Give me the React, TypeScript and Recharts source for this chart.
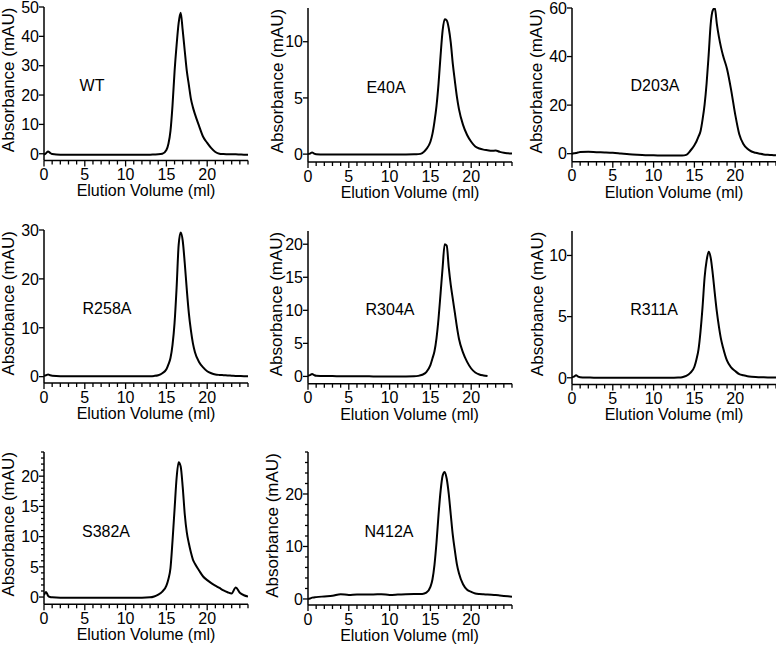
import React from "react";
import { LineChart, Line, XAxis, YAxis } from "recharts";

// elution volume (ml), shared by every run
const VOLUME = [
  0, 0.25, 0.5, 0.75, 1, 2, 3, 4, 5, 6, 7, 8, 9, 10, 11, 12, 13, 13.5, 14, 14.5,
  15, 15.25, 15.5, 15.75, 16, 16.25, 16.5, 16.75, 17, 17.25, 17.5, 17.75, 18,
  18.25, 18.5, 19, 19.5, 20, 20.5, 21, 21.5, 22, 22.5, 23, 23.5, 24, 24.5, 25,
];

// absorbance (mAU)
const WT = [
  -0.3, 0.2, 0.8, 0.3, -0.1, -0.3, -0.3, -0.3, -0.3, -0.3, -0.3, -0.3, -0.3, -0.3, -0.3, -0.3,
  -0.3, -0.25, -0.2, 0.0, 1.3, 3.4, 7.8, 16.5, 28, 37, 44.5, 48, 42, 35, 28.2, 23.5,
  18.8, 15.8, 13.5, 9.5, 5.8, 3.7, 1.9, 0.6, 0.0, -0.1, -0.15, -0.2, -0.2, -0.25, -0.3, -0.3,
];
const E40A = [
  0, 0.05, 0.15, 0.05, 0, -0.03, -0.03, -0.03, -0.03, -0.03, -0.03, -0.03, -0.03, -0.03, -0.03, -0.03,
  -0.02, 0, 0.1, 0.45, 1.1, 1.8, 2.9, 4.3, 6.3, 8.8, 11.0, 12.0, 11.9, 11.2, 9.9, 8.0,
  6.5, 5.1, 4.0, 2.6, 1.7, 1.1, 0.68, 0.5, 0.4, 0.35, 0.3, 0.32, 0.2, 0.12, 0.08, 0.05,
];
const D203A = [
  0, 0.15, 0.3, 0.5, 0.65, 0.75, 0.6, 0.5, 0.35, 0.05, -0.25, -0.45, -0.6, -0.65, -0.75, -0.8,
  -0.8, -0.8, -0.5, 1.2, 3.5, 5.0, 7.0, 9.2, 14.0, 20.2, 29.1, 40.8, 53.5, 59, 60, 53.5,
  48.2, 44.0, 40.5, 34.9, 26.3, 16.2, 8.0, 4.0, 2.0, 0.9, 0.35, 0, -0.3, -0.45, -0.55, -0.7,
];
const R258A = [
  0.2, 0.3, 0.45, 0.3, 0.2, 0.1, 0.1, 0.1, 0.1, 0.1, 0.1, 0.1, 0.1, 0.1, 0.1, 0.1,
  0.1, 0.15, 0.3, 0.7, 1.5, 2.5, 3.8, 6.5, 11, 18.2, 26.9, 29.5, 27.8, 23.2, 17.8, 13.0,
  9.5, 6.8, 5.0, 3.0, 1.9, 1.1, 0.7, 0.45, 0.35, 0.3, 0.25, 0.2, 0.15, 0.12, 0.1, 0.1,
];
const R304A = [
  0.1, 0.2, 0.35, 0.2, 0.1, 0.05, 0.05, 0.03, 0.03, 0.02, 0.02, 0, 0, 0, 0, 0,
  0.02, 0.08, 0.25, 0.65, 1.7, 2.7, 3.8, 5.8, 8.8, 12.6, 16.5, 20.0, 19.8, 16.5, 13.8, 11.7,
  9.6, 7.5, 5.7, 3.6, 2.2, 1.2, 0.6, 0.3, 0.15, 0.05, null, null, null, null, null, null,
];
const R311A = [
  0.05, 0.1, 0.2, 0.1, 0.05, 0.02, 0, 0, 0, 0, 0, 0, 0, 0, 0, 0,
  0.02, 0.05, 0.15, 0.4, 0.9, 1.5, 2.3, 3.8, 5.8, 8.2, 9.6, 10.3, 9.8, 8.5, 6.9, 5.4,
  4.2, 3.2, 2.5, 1.4, 0.85, 0.55, 0.3, 0.2, 0.12, 0.08, 0.06, 0.05, 0.04, 0.03, 0.02, 0.02,
];
const S382A = [
  0.3, 0.85, 0.2, 0.0, -0.05, -0.1, -0.1, -0.1, -0.1, -0.1, -0.1, -0.1, -0.1, -0.1, -0.1, -0.1,
  -0.05, 0.1, 0.4, 0.9, 1.9, 3.0, 4.8, 9.3, 14.5, 19.7, 22.3, 21.6, 18.2, 13.7, 10.7, 8.9,
  7.4, 6.2, 5.5, 4.4, 3.4, 2.8, 2.3, 1.9, 1.5, 1.1, 0.8, 0.6, 1.6, 0.7, 0.3, 0.1,
];
const N412A = [
  0, 0.1, 0.25, 0.3, 0.35, 0.48, 0.6, 0.9, 0.76, 0.85, 0.85, 0.85, 0.9, 0.76, 0.83, 0.92,
  0.95, 0.95, 0.95, 1.2, 2.3, 3.7, 6.5, 10.8, 16.1, 20.6, 23.5, 24.2, 22.9, 20.0, 16.0, 12.1,
  9.2, 6.6, 4.9, 2.8, 1.75, 1.35, 1.05, 0.93, 0.88, 0.85, 0.8, 0.74, 0.66, 0.58, 0.5, 0.42,
];

const X_TICKS = [0, 1, 2, 3, 4, 5, 6, 7, 8, 9, 10, 11, 12, 13, 14, 15, 16, 17, 18, 19, 20, 21, 22, 23, 24, 25];
const X_LABELS = [0, 5, 10, 15, 20];

const WT_Y = [0, 10, 20, 30, 40, 50];
const E40A_Y = [0, 5, 10];
const D203A_Y = [0, 20, 40, 60];
const R258A_Y = [0, 10, 20, 30];
const R304A_Y = [0, 5, 10, 15, 20];
const R311A_Y = [0, 5, 10];
const S382A_Y = [0, 5, 10, 15, 20];
const S382A_MINOR = [0, 1, 2, 3, 4, 5, 6, 7, 8, 9, 10, 11, 12, 13, 14, 15, 16, 17, 18, 19, 20, 21, 22, 23, 24];
const N412A_Y = [0, 10, 20];
const N412A_MINOR = [0, 2, 4, 6, 8, 10, 12, 14, 16, 18, 20, 22, 24, 26, 28];

const FONT = "'Liberation Sans', Arial, Helvetica, sans-serif";
const PLOT_W = 204;
const M_LEFT = 44;
const M_TOP = 10;
const M_BOTTOM = 42;

type Panel = {
  name: string;
  values: (number | null)[];
  domain: [number, number];
  labels: number[];
  ticks: number[];
  x0: number;
  top: number;
  bottom: number;
  titleGap: number;
  nameX: number;
  nameY: number;
};

const PANELS: Panel[] = [
  { name: "WT", values: WT, domain: [-2.3, 50], labels: WT_Y, ticks: WT_Y, x0: 44, top: 6.5, bottom: 160, titleGap: 36, nameX: 92, nameY: 85 },
  { name: "E40A", values: E40A, domain: [-0.7, 13], labels: E40A_Y, ticks: E40A_Y, x0: 308, top: 8, bottom: 162, titleGap: 31, nameX: 386, nameY: 87 },
  { name: "D203A", values: D203A, domain: [-3.3, 60], labels: D203A_Y, ticks: D203A_Y, x0: 572, top: 8.3, bottom: 162, titleGap: 36, nameX: 655, nameY: 85.5 },
  { name: "R258A", values: R258A, domain: [-1.3, 30], labels: R258A_Y, ticks: R258A_Y, x0: 44, top: 230, bottom: 383, titleGap: 36, nameX: 107, nameY: 308.5 },
  { name: "R304A", values: R304A, domain: [-1.1, 22], labels: R304A_Y, ticks: R304A_Y, x0: 307.5, top: 231.3, bottom: 384, titleGap: 31.5, nameX: 390, nameY: 309 },
  { name: "R311A", values: R311A, domain: [-0.55, 12], labels: R311A_Y, ticks: R311A_Y, x0: 572, top: 230.5, bottom: 384, titleGap: 34.5, nameX: 654, nameY: 309 },
  { name: "S382A", values: S382A, domain: [-1.2, 24], labels: S382A_Y, ticks: S382A_MINOR, x0: 44, top: 451.7, bottom: 604, titleGap: 36, nameX: 106, nameY: 530.8 },
  { name: "N412A", values: N412A, domain: [-1.15, 28], labels: N412A_Y, ticks: N412A_MINOR, x0: 307.5, top: 452, bottom: 605, titleGap: 35.5, nameX: 389, nameY: 530.8 },
];

function XTick(props: any) {
  const { x, y, payload } = props;
  const major = X_LABELS.includes(payload.value);
  return (
    <g>
      <line x1={x} x2={x} y1={y} y2={y + (major ? 6 : 4)} stroke="#000" strokeWidth={1.3} />
      {major && (
        <text x={x} y={y + 19.5} textAnchor="middle" fontSize={16} fontFamily={FONT} fill="#000">
          {payload.value}
        </text>
      )}
    </g>
  );
}

function YTick(props: any) {
  const { x, y, payload, labels } = props;
  const major = labels.includes(payload.value);
  return (
    <g>
      <line x1={x - (major ? 5 : 3)} x2={x} y1={y} y2={y} stroke="#000" strokeWidth={1.3} />
      {major && (
        <text x={x - 5} y={y} dy="0.36em" textAnchor="end" fontSize={16} fontFamily={FONT} fill="#000">
          {payload.value}
        </text>
      )}
    </g>
  );
}

function Chromatogram({ p }: { p: Panel }) {
  const data = VOLUME.map((v, i) => ({ v, a: p.values[i] }));
  const h = p.bottom - p.top;
  return (
    <div style={{ position: "absolute", left: p.x0 - M_LEFT, top: p.top - M_TOP }}>
      <LineChart
        width={M_LEFT + PLOT_W + 2}
        height={M_TOP + h + M_BOTTOM}
        data={data}
        margin={{ top: M_TOP, right: 2, bottom: 0, left: 0 }}
      >
        <XAxis
          dataKey="v"
          type="number"
          domain={[0, 25]}
          ticks={X_TICKS}
          interval={0}
          allowDataOverflow
          height={M_BOTTOM}
          tickSize={0}
          tickMargin={0}
          tickLine={false}
          axisLine={{ stroke: "#000", strokeWidth: 1.5 }}
          tick={<XTick />}
        />
        <YAxis
          type="number"
          domain={p.domain}
          ticks={p.ticks}
          interval={0}
          allowDataOverflow
          width={M_LEFT}
          tickSize={0}
          tickMargin={0}
          tickLine={false}
          axisLine={{ stroke: "#000", strokeWidth: 1.5 }}
          tick={<YTick labels={p.labels} />}
        />
        <Line
          dataKey="a"
          type="monotone"
          stroke="#000"
          strokeWidth={2}
          strokeLinejoin="round"
          dot={false}
          connectNulls={false}
          isAnimationActive={false}
        />
      </LineChart>
    </div>
  );
}

export default function App() {
  return (
    <div
      style={{
        position: "absolute",
        left: 0,
        top: 0,
        width: 776,
        height: 646,
        overflow: "hidden",
        background: "#fff",
      }}
    >
      {PANELS.map((p) => (
        <Chromatogram key={p.name} p={p} />
      ))}
      <svg
        width={776}
        height={646}
        style={{ position: "absolute", left: 0, top: 0, pointerEvents: "none" }}
        fontFamily={FONT}
        fill="#000"
      >
        {PANELS.map((p) => {
          const [min, max] = p.domain;
          const y0 = p.top + (max / (max - min)) * (p.bottom - p.top);
          const cy = (y0 + p.top) / 2;
          const cx = p.x0 - p.titleGap;
          return (
            <g key={p.name}>
              <text x={p.x0 + PLOT_W / 2} y={p.bottom + 36} textAnchor="middle" fontSize={16}>
                Elution Volume (ml)
              </text>
              <text
                x={cx}
                y={cy}
                dy="0.35em"
                textAnchor="middle"
                fontSize={17}
                transform={`rotate(-90, ${cx}, ${cy})`}
              >
                Absorbance (mAU)
              </text>
              <text x={p.nameX} y={p.nameY + 5.8} textAnchor="middle" fontSize={16}>
                {p.name}
              </text>
            </g>
          );
        })}
      </svg>
    </div>
  );
}
